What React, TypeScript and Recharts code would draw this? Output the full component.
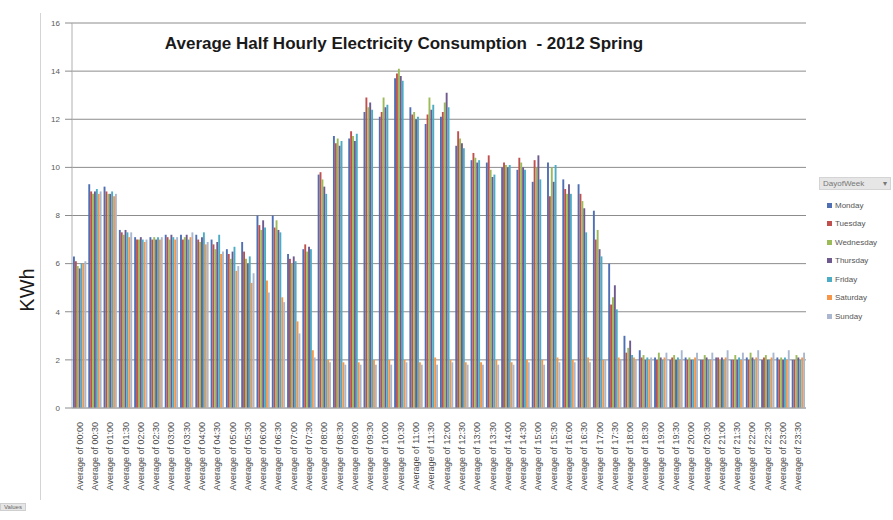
import { BarChart, Bar, XAxis, YAxis, CartesianGrid } from 'recharts'

const TIMES = [
    '00:00', '00:30', '01:00', '01:30', '02:00', '02:30', '03:00', '03:30',
    '04:00', '04:30', '05:00', '05:30', '06:00', '06:30', '07:00', '07:30',
    '08:00', '08:30', '09:00', '09:30', '10:00', '10:30', '11:00', '11:30',
    '12:00', '12:30', '13:00', '13:30', '14:00', '14:30', '15:00', '15:30',
    '16:00', '16:30', '17:00', '17:30', '18:00', '18:30', '19:00', '19:30',
    '20:00', '20:30', '21:00', '21:30', '22:00', '22:30', '23:00', '23:30',
]

const MONDAY = [6.3, 9.3, 9.2, 7.4, 7.1, 7.1, 7.2, 7.2, 7.2, 7.0, 6.6, 6.9, 8.0, 8.0, 6.4, 6.6, 9.7, 11.3, 11.2, 12.3, 12.1, 13.7, 12.5, 11.8, 12.1, 10.9, 10.3, 10.2, 10.0, 9.9, 9.4, 10.2, 9.5, 9.3, 8.2, 6.0, 3.0, 2.4, 2.1, 2.0, 2.1, 2.0, 2.1, 2.0, 2.1, 2.0, 2.1, 2.0]
const TUESDAY = [6.1, 9.0, 9.0, 7.3, 7.0, 7.0, 7.1, 7.0, 7.0, 6.8, 6.4, 6.5, 7.6, 7.5, 6.2, 6.8, 9.8, 11.0, 11.5, 12.9, 12.3, 13.9, 12.2, 12.2, 12.3, 11.5, 10.6, 10.5, 10.2, 10.4, 10.3, 8.8, 9.1, 8.9, 7.0, 4.3, 2.3, 2.1, 2.0, 2.1, 2.0, 2.0, 2.1, 2.0, 2.0, 2.1, 2.0, 2.0]
const WEDNESDAY = [5.9, 8.9, 8.9, 7.2, 7.0, 7.1, 7.0, 7.1, 6.9, 6.6, 6.2, 6.2, 7.4, 7.8, 6.0, 6.5, 9.5, 11.2, 11.3, 12.5, 12.9, 14.1, 12.3, 12.9, 12.7, 11.2, 10.4, 9.9, 10.1, 10.2, 10.0, 10.0, 8.9, 8.6, 7.4, 4.6, 2.5, 2.2, 2.3, 2.2, 2.1, 2.2, 2.0, 2.2, 2.3, 2.2, 2.1, 2.2]
const THURSDAY = [5.8, 9.0, 8.9, 7.4, 7.1, 7.0, 7.2, 7.2, 7.1, 6.9, 6.5, 6.0, 7.8, 7.4, 6.3, 6.7, 9.2, 10.9, 11.1, 12.7, 12.5, 13.8, 12.0, 12.4, 13.1, 11.0, 10.2, 9.6, 10.0, 10.0, 10.5, 9.4, 9.3, 8.3, 6.6, 5.1, 2.8, 2.0, 2.1, 2.0, 2.0, 2.1, 2.1, 2.0, 2.1, 2.0, 2.0, 2.1]
const FRIDAY = [6.0, 9.1, 9.0, 7.3, 7.0, 7.1, 7.1, 7.0, 7.3, 7.2, 6.7, 6.3, 7.5, 7.3, 6.1, 6.6, 8.9, 11.1, 11.4, 12.4, 12.6, 13.6, 12.1, 12.6, 12.5, 10.8, 10.3, 9.7, 10.1, 9.9, 9.5, 10.1, 8.9, 7.3, 6.3, 4.1, 2.2, 2.1, 2.0, 2.1, 2.0, 2.0, 2.0, 2.1, 2.0, 2.0, 2.1, 2.0]
const SATURDAY = [6.0, 8.9, 8.8, 7.1, 6.9, 7.0, 7.0, 7.1, 6.8, 6.4, 5.7, 5.2, 5.3, 4.6, 3.6, 2.4, 2.0, 1.9, 1.9, 2.0, 2.0, 2.0, 1.9, 2.1, 2.0, 1.9, 1.9, 2.0, 1.9, 2.0, 2.0, 2.1, 2.0, 2.1, 2.0, 2.1, 2.1, 2.0, 2.1, 2.0, 2.1, 2.0, 2.1, 2.0, 2.1, 2.1, 2.0, 2.1]
const SUNDAY = [6.1, 9.0, 8.9, 7.3, 7.0, 7.1, 7.1, 7.3, 6.9, 6.5, 5.9, 5.6, 4.8, 4.4, 3.1, 2.1, 1.9, 1.8, 1.8, 1.8, 1.8, 1.9, 1.8, 1.8, 1.9, 1.8, 1.8, 1.8, 1.8, 1.9, 1.8, 1.9, 1.9, 1.9, 2.0, 2.0, 2.0, 2.1, 2.3, 2.4, 2.3, 2.3, 2.4, 2.3, 2.4, 2.3, 2.4, 2.3]

const DAYS = ['Monday', 'Tuesday', 'Wednesday', 'Thursday', 'Friday', 'Saturday', 'Sunday']
const SERIES = [MONDAY, TUESDAY, WEDNESDAY, THURSDAY, FRIDAY, SATURDAY, SUNDAY]
const Y_TICKS = [0, 2, 4, 6, 8, 10, 12, 14, 16]

const DAY_COLORS: Record<string, string> = {
    Monday: '#4F6FB5',
    Tuesday: '#C0504D',
    Wednesday: '#9BBB59',
    Thursday: '#6E5A8E',
    Friday: '#4BACC6',
    Saturday: '#F79646',
    Sunday: '#A9B8D0',
}

const data = TIMES.map((t, i) => {
    const row: Record<string, string | number> = { time: t }
    DAYS.forEach((d, k) => { row[d] = SERIES[k][i] })
    return row
})

const FONT = '"Liberation Sans", Arial, sans-serif'

function TimeTick({ x, y, payload }: any) {
    const ax = x + 3
    const ay = y + 6
    return (
        <text x={ax} y={ay} transform={`rotate(-90, ${ax}, ${ay})`} textAnchor="end" fontFamily={FONT} fontSize={9} fill="#4d4d4d">
            {'Average of ' + payload.value}
        </text>
    )
}

function DayLegend() {
    return (
        <div style={{ position: 'absolute', left: 819, top: 177, width: 72, fontFamily: FONT, fontSize: 8, color: '#555' }}>
            <div style={{ background: '#e6e6e6', border: '1px solid #d4d4d4', height: 11, lineHeight: '11px', padding: '0 3px', display: 'flex', justifyContent: 'space-between', marginBottom: 6, color: '#777' }}>
                <span>DayofWeek</span><span>▾</span>
            </div>
            {DAYS.map((d) => (
                <div key={d} style={{ display: 'flex', alignItems: 'center', height: 18.5, paddingLeft: 8 }}>
                    <span style={{ width: 5, height: 5, background: DAY_COLORS[d], marginRight: 3 }} />
                    <span>{d}</span>
                </div>
            ))}
        </div>
    )
}

export default function App() {
    return (
        <div style={{ position: 'absolute', left: 0, top: 0, width: 893, height: 520, background: '#fff' }}>
            <div style={{ position: 'absolute', left: 40, top: 13, width: 1, height: 487, background: '#d4d4d4' }} />
            <div style={{ position: 'absolute', left: 404, top: 34, transform: 'translateX(-50%)', whiteSpace: 'pre', fontFamily: FONT, fontWeight: 700, fontSize: 17, color: '#1a1a1a' }}>
                Average Half Hourly Electricity Consumption  - 2012 Spring
            </div>
            <div style={{ position: 'absolute', left: 27, top: 290, transform: 'translate(-50%, -50%) rotate(-90deg)', fontFamily: FONT, fontSize: 20, color: '#1a1a1a' }}>
                KWh
            </div>
            <div style={{ position: 'absolute', left: 0, top: 503, fontFamily: FONT, fontSize: 6, color: '#666', background: '#e6e6e6', border: '1px solid #cfcfcf', padding: '0 3px' }}>
                Values
            </div>
            <DayLegend />
            <div style={{ position: 'absolute', left: 0, top: 0 }}>
                <BarChart width={893} height={520} data={data} margin={{ top: 23, right: 87, bottom: 22, left: 42 }} barGap={0} barCategoryGap="13%">
                    <CartesianGrid vertical={false} stroke="#8c8c8c" />
                    <YAxis
                        width={30}
                        domain={[0, 16]}
                        ticks={Y_TICKS}
                        interval={0}
                        tickSize={7}
                        tickMargin={5}
                        axisLine={{ stroke: '#b0b0b0' }}
                        tickLine={{ stroke: '#8c8c8c' }}
                        tick={{ fontFamily: FONT, fontSize: 8, fill: '#595959' }}
                    />
                    <XAxis dataKey="time" interval={0} height={90} tick={<TimeTick />} tickLine={false} axisLine={{ stroke: '#b0b0b0' }} />
                    {DAYS.map((d) => (
                        <Bar key={d} dataKey={d} fill={DAY_COLORS[d]} barSize={1.9} isAnimationActive={false} />
                    ))}
                </BarChart>
            </div>
        </div>
    )
}
